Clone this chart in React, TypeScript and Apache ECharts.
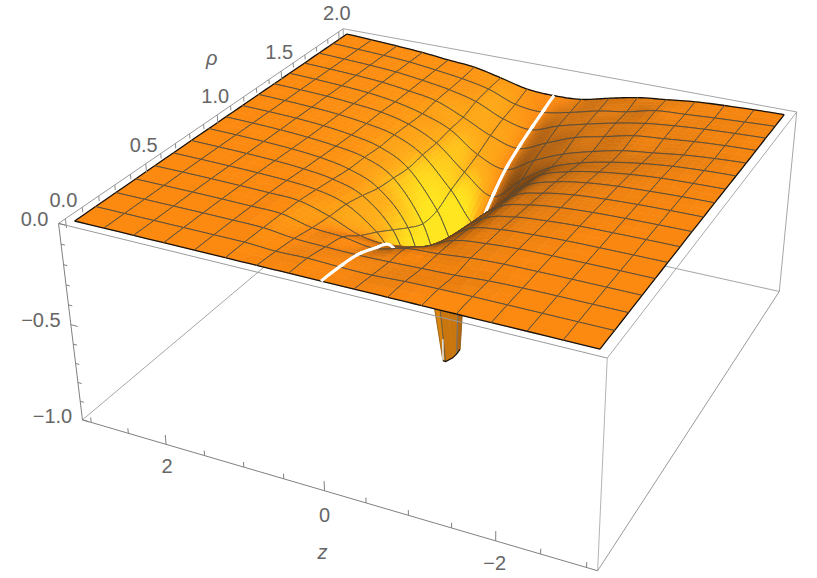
import React, { useEffect, useRef } from "react";
import * as echarts from "echarts";

const zValues = [3, 2.625, 2.25, 1.875, 1.5, 1.125, 0.75, 0.375, 0, -0.375, -0.75, -1.125, -1.5, -1.875, -2.25, -2.625, -3];
const rhoValues = [0, 0.125, 0.25, 0.375, 0.5, 0.625, 0.75, 0.875, 1, 1.125, 1.25, 1.375, 1.5, 1.625, 1.75, 1.875, 2];
// rows: rho index, columns: z index, values
const heights = [
  [0, 0, 0, 0, 0, 0, 0, 0, 0, 0, 0, 0, 0, 0, 0, 0, 0],
  [0, 0, 0, 0, 0, 0, -0.008, -0.005, -0.01, -0.012, -0.005, -0.002, 0, 0, 0, 0, 0],
  [0, 0, 0, 0, -0.001, -0.003, -0.02, -0.025, -0.028, -0.025, -0.02, -0.015, -0.005, -0.001, 0, 0, 0],
  [0, 0, 0, -0.001, -0.003, -0.006, -0.04, -0.05, -0.07, -0.035, -0.025, -0.01, -0.003, -0.001, 0, 0, 0],
  [0, 0, -0.001, -0.003, -0.006, -0.012, -0.055, -0.115, -0.13, -0.1, -0.035, -0.015, -0.005, -0.002, -0.001, 0, 0],
  [0, -0.001, -0.003, -0.006, -0.012, -0.025, -0.065, -0.17, -0.33, -0.16, -0.05, -0.02, -0.01, -0.004, -0.002, -0.001, 0],
  [0, -0.002, -0.005, -0.01, -0.02, -0.04, -0.09, -0.23, -0.5, -0.2, -0.07, -0.03, -0.015, -0.006, -0.003, -0.001, 0],
  [-0.001, -0.003, -0.007, -0.014, -0.027, -0.055, -0.12, -0.29, -0.66, -0.24, -0.085, -0.04, -0.02, -0.01, -0.005, -0.002, 0],
  [-0.001, -0.004, -0.009, -0.018, -0.033, -0.06, -0.135, -0.34, -0.7, -0.27, -0.1, -0.05, -0.026, -0.014, -0.007, -0.003, -0.001],
  [-0.002, -0.005, -0.01, -0.02, -0.038, -0.07, -0.15, -0.34, -0.6, -0.27, -0.115, -0.06, -0.033, -0.018, -0.01, -0.004, -0.001],
  [-0.002, -0.006, -0.012, -0.022, -0.04, -0.07, -0.145, -0.3, -0.47, -0.27, -0.13, -0.075, -0.045, -0.025, -0.012, -0.006, -0.002],
  [-0.003, -0.007, -0.013, -0.024, -0.04, -0.075, -0.145, -0.27, -0.37, -0.25, -0.15, -0.095, -0.06, -0.035, -0.018, -0.008, -0.003],
  [-0.003, -0.008, -0.015, -0.025, -0.045, -0.08, -0.135, -0.24, -0.29, -0.21, -0.145, -0.1, -0.065, -0.045, -0.025, -0.012, -0.004],
  [-0.004, -0.009, -0.016, -0.026, -0.045, -0.07, -0.13, -0.2, -0.24, -0.18, -0.12, -0.085, -0.05, -0.035, -0.02, -0.01, -0.004],
  [-0.004, -0.01, -0.017, -0.027, -0.045, -0.068, -0.105, -0.17, -0.2, -0.15, -0.11, -0.075, -0.047, -0.03, -0.018, -0.01, -0.004],
  [-0.005, -0.011, -0.018, -0.028, -0.045, -0.065, -0.095, -0.15, -0.165, -0.137, -0.1, -0.075, -0.04, -0.03, -0.02, -0.012, -0.005],
  [-0.005, -0.012, -0.02, -0.03, -0.045, -0.058, -0.09, -0.125, -0.133, -0.125, -0.09, -0.058, -0.04, -0.023, -0.014, -0.008, -0.004],
];
// the funnel near z = 0, rho = 1 that shows below the front edge, cut at the floor of the box
const funnelTopZ = [0.12, 0.056, -0.03, -0.145, -0.218];
const funnelTopRho = [0.92, 0.927, 0.94, 0.953, 0.943];
const funnelBottomZ = [0.012, -0.025, -0.065, -0.07, -0.06];
const funnelBottomRho = [0.923, 0.922, 0.959, 0.99, 1.03];
const FUNNEL_TOP_H = -0.7;
const funnelColors = ["#d98510", "#c9760f", "#c9760f", "#b5660d"];

const zTicks = [3, 2.5, 2, 1.5, 1, 0.5, 0, -0.5, -1, -1.5, -2, -2.5, -3];
const zMajor = [2, 0, -2];
const rhoTicks = [0, 0.1, 0.2, 0.3, 0.4, 0.5, 0.6, 0.7, 0.8, 0.9, 1, 1.1, 1.2, 1.3, 1.4, 1.5, 1.6, 1.7, 1.8, 1.9, 2];
const rhoMajor = [0, 0.5, 1, 1.5, 2];
const hTicks = [0, -0.1, -0.2, -0.3, -0.4, -0.5, -0.6, -0.7, -0.8, -0.9, -1];
const hMajor = [0, -0.5, -1];
const zLabels = ["2", "0", "\u22122"];
const rhoLabels = ["0.0", "0.5", "1.0", "1.5", "2.0"];
const hLabels = ["0.0", "\u22120.5", "\u22121.0"];

// bounding box limits
const Z_HI = 3.12, Z_LO = -3.12, R_LO = -0.04, R_HI = 2.04, H_LO = -1, H_HI = 0;
// where the box corners lie on the page: [u, v, w, x, y]
const boxCorners = [
  [0, 0, 1, 59, 224], [0, 1, 1, 342, 29], [1, 1, 1, 797, 112], [1, 0, 1, 608, 357],
  [0, 0, 0, 82, 420], [1, 0, 0, 597, 571], [1, 1, 0, 779, 292], [0, 1, 0, 350, 195],
];

function solveCamera(): number[] {
  const n = 11;
  const A: number[][] = Array.from({ length: n }, () => new Array(n + 1).fill(0));
  const add = (r: number[], b: number) => {
    for (let i = 0; i < n; i++) {
      for (let k = 0; k < n; k++) A[i][k] += r[i] * r[k];
      A[i][n] += r[i] * b;
    }
  };
  for (const [u, v, w, x, y] of boxCorners) {
    add([u, v, w, 1, 0, 0, 0, 0, -x * u, -x * v, -x * w], x);
    add([0, 0, 0, 0, u, v, w, 1, -y * u, -y * v, -y * w], y);
  }
  for (let c = 0; c < n; c++) {
    let p = c;
    for (let r = c + 1; r < n; r++) if (Math.abs(A[r][c]) > Math.abs(A[p][c])) p = r;
    [A[c], A[p]] = [A[p], A[c]];
    for (let r = 0; r < n; r++) {
      if (r === c) continue;
      const f = A[r][c] / A[c][c];
      for (let k = c; k <= n; k++) A[r][k] -= f * A[c][k];
    }
  }
  return A.map((row, i) => row[n] / row[i]);
}
const cam = solveCamera();
function project(z: number, rho: number, h: number): [number, number] {
  const u = (Z_HI - z) / (Z_HI - Z_LO), v = (rho - R_LO) / (R_HI - R_LO), w = (h - H_LO) / (H_HI - H_LO);
  const d = cam[8] * u + cam[9] * v + cam[10] * w + 1;
  return [(cam[0] * u + cam[1] * v + cam[2] * w + cam[3]) / d, (cam[4] * u + cam[5] * v + cam[6] * w + cam[7]) / d];
}

const N = zValues.length - 1;
function cr(a: number, b: number, c: number, d: number, t: number) {
  return 0.5 * (2 * b + (c - a) * t + (2 * a - 5 * b + 4 * c - d) * t * t + (3 * b - a - 3 * c + d) * t * t * t);
}
const at = (i: number, j: number) => heights[Math.max(0, Math.min(N, j))][Math.max(0, Math.min(N, i))];
// smooth surface between the read vertices, fractional mesh indices
function surf(s: number, t: number) {
  const i = Math.min(N - 1, Math.floor(s)), j = Math.min(N - 1, Math.floor(t));
  const fs = s - i, ft = t - j;
  const col = [-1, 0, 1, 2].map((dj) => cr(at(i - 1, j + dj), at(i, j + dj), at(i + 1, j + dj), at(i + 2, j + dj), fs));
  return Math.min(0, cr(col[0], col[1], col[2], col[3], ft));
}
const zAt = (s: number) => 3 - (6 * s) / N;
const rAt = (t: number) => (2 * t) / N;
const pt = (s: number, t: number) => project(zAt(s), rAt(t), surf(s, t));

function mix(a: number[], b: number[], t: number) {
  const k = Math.max(0, Math.min(1, t));
  return a.map((v, idx) => v + (b[idx] - v) * k);
}
const BROWN = [130, 72, 16], FLAT = [252, 137, 16], AMBER = [255, 175, 22], YELLOW = [255, 230, 28];
function shade(s: number, t: number) {
  const e = 0.08;
  const a = Math.max(0, s - e), b = Math.min(N, s + e), c = Math.max(0, t - e), d = Math.min(N, t + e);
  // slopes in box-ratio units (z and rho span 1, height spans 0.4)
  const dz = ((surf(b, t) - surf(a, t)) * 0.4) / (-(b - a) / N);
  const dr = ((surf(s, d) - surf(s, c)) * 0.4) / ((d - c) / N);
  const len = Math.sqrt(dz * dz + dr * dr + 1);
  const nz = -dz / len, nr = -dr / len, nu = 1 / len;
  const l = -0.95 * nz - (nr > 0 ? 0.5 : 0.15) * nr - 0.15 * (1 - nu);
  const rgb = l < 0 ? mix(FLAT, BROWN, -l / 0.6) : l < 0.5 ? mix(FLAT, AMBER, l / 0.5) : mix(AMBER, YELLOW, (l - 0.5) / 0.22);
  return `rgb(${rgb.map((v) => Math.round(v)).join(",")})`;
}

const MESH = "#4b483f", EDGE = "#151210", WHITE = "#ffffff";
const cells: number[][] = [];
for (let j = N - 1; j >= 0; j--) for (let i = 0; i < N; i++) cells.push([i, j]);

function renderCell(params: any, api: any) {
  const [i, j] = cells[params.dataIndex];
  const toPx = (p: [number, number]) => api.coord(p);
  const cornerMax = Math.max(...[0, 1, 2, 3].map((k) => Math.abs(at(i + (k & 1), j + (k >> 1)))));
  const sub = cornerMax > 0.1 ? 8 : cornerMax > 0.02 ? 4 : cornerMax > 0.003 ? 2 : 1;
  const children: any[] = [];
  for (let a = 0; a < sub; a++) {
    for (let b = 0; b < sub; b++) {
      const s0 = i + a / sub, s1 = i + (a + 1) / sub, t0 = j + b / sub, t1 = j + (b + 1) / sub;
      const col = shade((s0 + s1) / 2, (t0 + t1) / 2);
      children.push({
        type: "polygon",
        shape: { points: [pt(s0, t0), pt(s1, t0), pt(s1, t1), pt(s0, t1)].map(toPx) },
        style: { fill: col, stroke: col, lineWidth: 0.6 },
      });
    }
  }
  const edge = (fn: (k: number) => [number, number], stroke: string, lineWidth: number) => {
    const pts: number[][] = [];
    const m = Math.max(sub * 2, 2);
    for (let k = 0; k <= m; k++) {
      const [s, t] = fn(k / m);
      pts.push(toPx(pt(s, t)));
    }
    children.push({ type: "polyline", shape: { points: pts }, style: { fill: "none", stroke, lineWidth } });
  };
  const line = (boundary: boolean) => (boundary ? [EDGE, 1.3] : [MESH, 0.9]) as [string, number];
  edge((k) => [i + k, j], ...line(j === 0));
  edge((k) => [i + k, j + 1], ...line(j + 1 === N));
  edge((k) => [i, j + k], ...line(i === 0));
  edge((k) => [i + 1, j + k], ...line(i + 1 === N));
  // the z = 0 line is repainted a little past the row behind, so crossings do not break it
  if (i === 7 || i === 8) {
    const far = j + 1 === N ? 1 : 1.25;
    edge((k) => [8, j + k * far], WHITE, 3);
  }
  return { type: "group", children };
}

function renderFunnel(_p: any, api: any) {
  const children: any[] = [];
  const top = funnelTopZ.map((z, k) => project(z, funnelTopRho[k], FUNNEL_TOP_H));
  const bot = funnelBottomZ.map((z, k) => project(z, funnelBottomRho[k], H_LO));
  for (let k = 0; k < funnelColors.length; k++) {
    const pts = [top[k], top[k + 1], bot[k + 1], bot[k]].map((p) => api.coord(p));
    children.push({ type: "polygon", shape: { points: pts }, style: { fill: funnelColors[k], stroke: funnelColors[k], lineWidth: 0.6 } });
  }
  const stroke = (a: [number, number], b: [number, number], col: string, w: number) => {
    const p = api.coord(a), q = api.coord(b);
    children.push({ type: "line", shape: { x1: p[0], y1: p[1], x2: q[0], y2: q[1] }, style: { stroke: col, lineWidth: w } });
  };
  stroke(top[1], bot[1], "#6d5a3a", 1);
  stroke(top[3], bot[3], "#77756c", 1.1);
  stroke(top[0], bot[0], "#8a5a18", 0.8);
  stroke(top[4], bot[4], "#8a5a18", 0.8);
  stroke(project(funnelBottomZ[0], funnelBottomRho[0], -0.88), bot[0], "#dddddd", 1.6);
  children.push({ type: "polyline", shape: { points: bot.map((p) => api.coord(p)) }, style: { fill: "none", stroke: EDGE, lineWidth: 1.2 } });
  return { type: "group", children };
}

const c = (u: number, v: number, w: number) =>
  project(Z_HI - u * (Z_HI - Z_LO), R_LO + v * (R_HI - R_LO), H_LO + w * (H_HI - H_LO));
const backLines: [number, number, number, number, number, number][] = [
  [0, 1, 1, 1, 1, 1], [0, 1, 1, 0, 1, 0], [0, 0, 0, 0, 1, 0], [0, 1, 0, 1, 1, 0], [1, 1, 1, 1, 1, 0],
];
const frontLines: [number, number, number, number, number, number, string][] = [
  [0, 0, 1, 1, 0, 1, "#9a9a9a"], [0, 0, 1, 0, 1, 1, "#9a9a9a"], [1, 0, 1, 1, 1, 1, "#a8a8a8"],
  [1, 0, 1, 1, 0, 0, "#b4b4b4"], [1, 0, 0, 1, 1, 0, "#9a9a9a"],
  [0, 0, 1, 0, 0, 0, "#808080"], [0, 0, 0, 1, 0, 0, "#808080"],
];
const gray = "#666666";
const FONT = '20px "Liberation Sans", Arial, sans-serif';
const ITALIC = 'italic 20px "Liberation Sans", Arial, sans-serif';

function renderBack(_p: any, api: any) {
  return {
    type: "group",
    children: backLines.map(([a, b, d, e, f, g]) => ({
      type: "line",
      shape: (() => { const p = api.coord(c(a, b, d)), q = api.coord(c(e, f, g)); return { x1: p[0], y1: p[1], x2: q[0], y2: q[1] }; })(),
      style: { stroke: "#a6a6a6", lineWidth: 1 },
    })),
  };
}
function renderFront(_p: any, api: any) {
  const children: any[] = [];
  const seg = (p0: [number, number], p1: [number, number], stroke: string) => {
    const p = api.coord(p0), q = api.coord(p1);
    children.push({ type: "line", shape: { x1: p[0], y1: p[1], x2: q[0], y2: q[1] }, style: { stroke, lineWidth: 1 } });
  };
  frontLines.forEach(([a, b, d, e, f, g, col]) => seg(c(a, b, d), c(e, f, g), col));
  zTicks.forEach((t) => seg(project(t, R_LO, H_LO), project(t, R_LO, H_LO + (zMajor.includes(t) ? 0.05 : 0.027)), "#808080"));
  rhoTicks.forEach((t) => seg(project(Z_HI, t, 0), project(Z_HI, t, rhoMajor.includes(t) ? -0.045 : -0.025), "#8c8c8c"));
  hTicks.forEach((t) => seg(project(Z_HI, R_LO, t), project(Z_HI - (hMajor.includes(t) ? 0.09 : 0.05), R_LO, t), "#808080"));
  const label = (text: string, p0: [number, number], dx: number, dy: number, font = FONT) => {
    const p = api.coord(p0);
    children.push({ type: "text", x: p[0] + dx, y: p[1] + dy, style: { text, font, fill: gray, align: "center", verticalAlign: "middle" } });
  };
  zMajor.forEach((t, k) => label(zLabels[k], project(t, R_LO, H_LO), [1, 0, -1][k], [22, 24, 22][k]));
  rhoMajor.forEach((t, k) => label(rhoLabels[k], project(Z_HI, t, 0), -2, -19));
  hMajor.forEach((t, k) => label(hLabels[k], project(Z_HI, R_LO, t), [-24, -30, -30][k], [-4, -5, -4][k]));
  label("\u03C1", project(Z_HI, 1.2, 0), -32, -39, ITALIC);
  label("z", project(0, R_LO, H_LO), -2, 61, ITALIC);
  return { type: "group", children };
}

export default function App() {
  const ref = useRef<HTMLDivElement>(null);
  useEffect(() => {
    document.body.style.margin = "0";
    const chart = echarts.init(ref.current!, undefined, { renderer: "svg" });
    chart.setOption({
      animation: false,
      backgroundColor: "#ffffff",
      grid: { left: 0, right: 0, top: 0, bottom: 0 },
      xAxis: { type: "value", min: 0, max: 817, show: false },
      yAxis: { type: "value", min: 0, max: 578, inverse: true, show: false },
      series: [
        { type: "custom", name: "box back", silent: true, clip: false, data: [[0, 0]], renderItem: renderBack, z: 1 },
        { type: "custom", name: "funnel", silent: true, clip: false, data: [[0, 0]], renderItem: renderFunnel, z: 2 },
        { type: "custom", name: "surface", silent: true, clip: false, data: cells, renderItem: renderCell, z: 3 },
        { type: "custom", name: "box front", silent: true, clip: false, data: [[0, 0]], renderItem: renderFront, z: 4 },
      ],
    });
    return () => chart.dispose();
  }, []);
  return <div ref={ref} style={{ width: 817, height: 578 }} />;
}
